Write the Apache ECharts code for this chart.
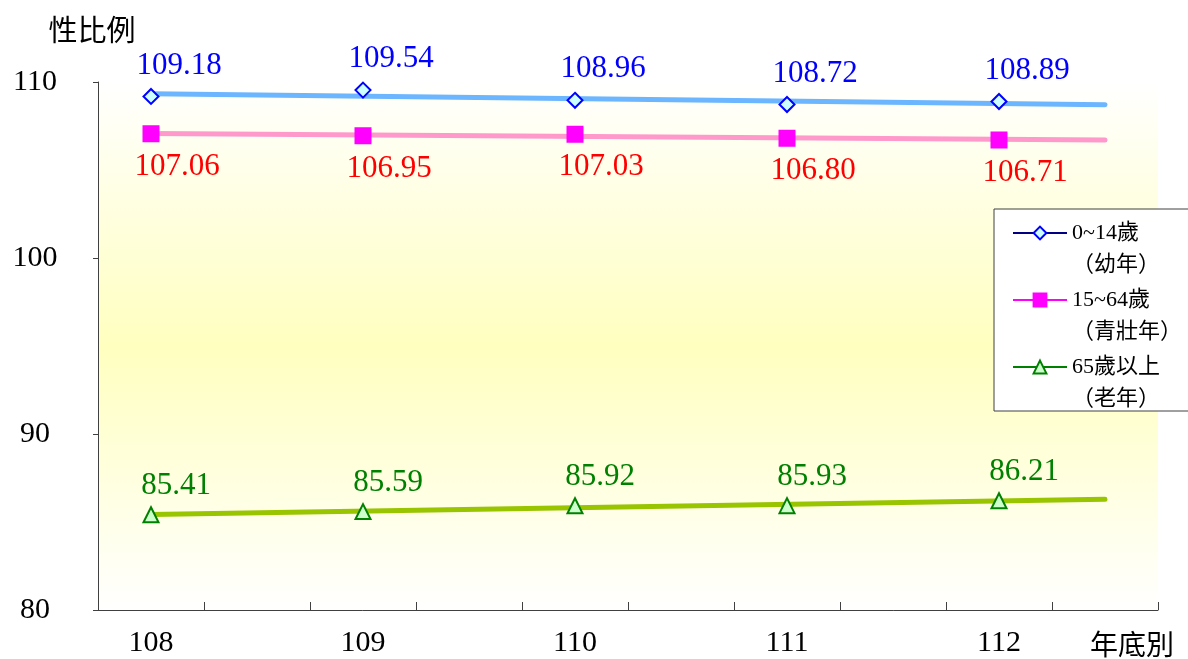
<!DOCTYPE html>
<html>
<head>
<meta charset="utf-8">
<script src="https://cdn.jsdelivr.net/npm/echarts@6/dist/echarts.min.js"></script>
<style>
  html, body { margin: 0; padding: 0; background: #fff; }
  #chart { width: 1188px; height: 659px; }
</style>
</head>
<body>
<div id="chart"></div>
<script>
// 性比例（年底別）
const years = ['108', '109', '110', '111', '112'];
const child = [109.18, 109.54, 108.96, 108.72, 108.89];     // 0~14歲
const working = [107.06, 106.95, 107.03, 106.80, 106.71];   // 15~64歲
const elderly = [85.41, 85.59, 85.92, 85.93, 86.21];        // 65歲以上
const seriesNames = ['0~14歲', '15~64歲', '65歲以上'];
const seriesNotes = ['（幼年）', '（青壯年）', '（老年）'];
const yMin = 80, yMax = 110, yStep = 10;

const SERIF = "'Liberation Serif', 'Noto Sans CJK TC', serif";
const CJK = "'Noto Sans CJK TC', sans-serif";

// each year takes two slots on the x axis, its label on the first one
const slots = years.flatMap(y => [y, '']);
const toPoints = vals => vals.map((v, i) => [i * 2, v]);

// least-squares trend line, from the first year to half a year past the last
function trend(vals) {
  const n = vals.length;
  const mx = (n - 1) / 2;
  const my = vals.reduce((a, b) => a + b, 0) / n;
  let sxy = 0, sxx = 0;
  vals.forEach((v, i) => { sxy += (i - mx) * (v - my); sxx += (i - mx) * (i - mx); });
  const k = sxy / sxx;
  const at = x => my + k * (x - mx);
  const end = n - 0.5;
  return [[0, at(0)], [end * 2, at(end)]];
}

const groups = [
  { vals: child,   symbol: 'diamond',  fill: '#CCFFFF', border: '#0000FF', trendColor: '#6CB6FF',
    legendLine: '#000080', labelColor: '#0000FF', labelPos: 'top',    labelOffset: [28, -2] },
  { vals: working, symbol: 'rect',     fill: '#FF00FF', border: '#FF00FF', trendColor: '#FF99CC',
    legendLine: '#FF00FF', labelColor: '#FF0000', labelPos: 'bottom', labelOffset: [26, 4] },
  { vals: elderly, symbol: 'triangle', fill: '#CCFFCC', border: '#008000', trendColor: '#99C400',
    legendLine: '#008000', labelColor: '#008000', labelPos: 'top',    labelOffset: [25, 0] }
];

const series = [];
groups.forEach((g, idx) => {
  series.push({
    name: seriesNames[idx] + ' 趨勢',
    type: 'line',
    data: trend(g.vals),
    symbol: 'none',
    silent: true,
    z: 2,
    lineStyle: { color: g.trendColor, width: 5, cap: 'round' },
    animation: false
  });
});
groups.forEach((g, idx) => {
  series.push({
    name: seriesNames[idx],
    type: 'line',
    data: toPoints(g.vals),
    symbol: g.symbol,
    symbolSize: 15,
    z: 3,
    lineStyle: { opacity: 0 },
    itemStyle: { color: g.fill, borderColor: g.border, borderWidth: 2 },
    label: {
      show: true,
      position: g.labelPos,
      offset: g.labelOffset,
      formatter: p => p.value[1].toFixed(2),
      color: g.labelColor,
      fontFamily: SERIF,
      fontSize: 31
    },
    animation: false
  });
});

const chart = echarts.init(document.getElementById('chart'));
chart.setOption({
  backgroundColor: '#fff',
  grid: {
    left: 98, right: 30, top: 82, bottom: 49,
    outerBoundsMode: 'none',
    show: true,
    borderWidth: 0,
    backgroundColor: {
      type: 'linear', x: 0, y: 0, x2: 0, y2: 1,
      colorStops: [
        { offset: 0, color: '#FFFFFF' },
        { offset: 0.5, color: '#FFFFC0' },
        { offset: 1, color: '#FFFFFF' }
      ]
    }
  },
  xAxis: {
    type: 'category',
    data: slots,
    boundaryGap: true,
    axisLine: { lineStyle: { color: '#404040', width: 1 } },
    axisTick: { show: true, inside: true, length: 8, interval: 0, lineStyle: { color: '#404040' } },
    axisLabel: { interval: 0, margin: 18, color: '#000', fontFamily: SERIF, fontSize: 30 },
    splitLine: { show: false },
    name: '年底別',
    nameLocation: 'end',
    nameGap: -68,
    nameTextStyle: { color: '#000', fontFamily: CJK, fontSize: 28, align: 'left', verticalAlign: 'top', padding: [20, 0, 0, 0] }
  },
  yAxis: {
    type: 'value',
    min: yMin, max: yMax, interval: yStep,
    axisLine: { show: true, lineStyle: { color: '#404040', width: 1 } },
    axisTick: { show: true, inside: false, length: 5, lineStyle: { color: '#404040' } },
    axisLabel: { margin: 63, align: 'center', color: '#000', fontFamily: SERIF, fontSize: 30 },
    splitLine: { show: false },
    name: '性比例',
    nameLocation: 'end',
    nameGap: 38,
    nameTextStyle: { color: '#000', fontFamily: CJK, fontSize: 29, align: 'center', padding: [0, 12, 0, 0] }
  },
  legend: {
    orient: 'vertical',
    left: 994, top: 209,
    padding: [-24, 10, -4, 18],
    itemWidth: 54, itemHeight: 16, itemGap: -29,
    backgroundColor: '#fff',
    borderColor: '#404040', borderWidth: 1,
    selectedMode: false,
    data: seriesNames.map((n, i) => ({
      name: n,
      lineStyle: { color: groups[i].legendLine, width: 2, opacity: 1 }
    })),
    // blank first line keeps the icon level with the series name
    formatter: n => '\n' + n + '\n' + seriesNotes[seriesNames.indexOf(n)],
    textStyle: { color: '#000', fontFamily: SERIF, fontSize: 22, lineHeight: 32 }
  },
  series: series
});
</script>
</body>
</html>
